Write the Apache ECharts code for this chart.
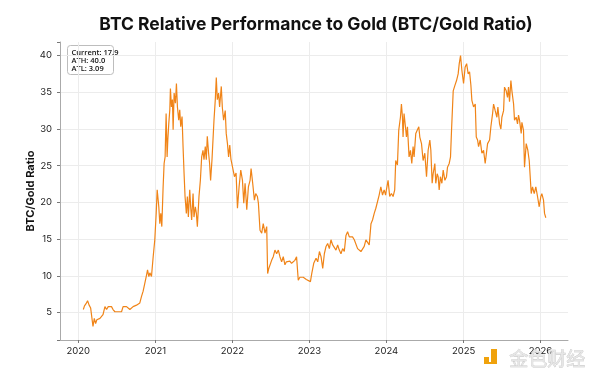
<!DOCTYPE html>
<html>
<head>
<meta charset="utf-8">
<script src="https://cdn.jsdelivr.net/npm/echarts@6/dist/echarts.min.js"></script>
<style>
html,body{margin:0;padding:0;background:#fff;}
#chart{width:600px;height:382px;}
</style>
</head>
<body>
<div id="chart"></div>
<script>
// Fractional years of each observation
const dates = [
2020.065,2020.08,2020.10,2020.12,2020.14,2020.16,2020.175,2020.19,2020.207,2020.224,
2020.24,2020.26,2020.28,2020.30,2020.32,2020.345,2020.366,2020.388,2020.41,2020.43,
2020.45,2020.474,2020.495,2020.517,2020.54,2020.56,2020.58,2020.603,2020.625,2020.647,
2020.668,2020.69,2020.71,2020.733,2020.754,2020.776,2020.797,2020.819,2020.84,2020.862,
2020.884,2020.897,2020.914,2020.927,2020.948,2020.97,2020.991,
2021.009,2021.022,2021.043,2021.056,2021.069,2021.082,2021.099,2021.112,2021.125,2021.138,
2021.151,2021.16,2021.173,2021.186,2021.194,2021.207,2021.22,2021.229,2021.242,2021.259,
2021.272,2021.285,2021.302,2021.315,2021.328,2021.345,2021.358,2021.371,2021.384,2021.401,
2021.414,2021.427,2021.445,2021.457,2021.47,2021.488,2021.50,2021.518,2021.531,2021.544,
2021.565,2021.583,2021.60,2021.617,2021.63,2021.647,2021.66,2021.673,2021.69,2021.703,
2021.716,2021.734,2021.747,2021.76,2021.777,2021.79,2021.803,2021.82,2021.833,2021.855,
2021.868,2021.885,2021.906,2021.919,2021.935,2021.95,2021.965,2021.98,
2022.0,2022.026,2022.047,2022.065,2022.086,2022.108,2022.13,2022.147,2022.164,2022.186,
2022.207,2022.229,2022.242,2022.263,2022.285,2022.302,2022.324,2022.337,2022.358,2022.38,
2022.40,2022.423,2022.445,2022.457,2022.472,2022.488,2022.509,2022.53,2022.552,2022.574,
2022.596,2022.617,2022.639,2022.66,2022.682,2022.70,2022.725,2022.746,2022.768,2022.79,
2022.811,2022.833,2022.855,2022.876,2022.898,2022.92,2022.941,2022.96,2022.984,
2023.013,2023.03,2023.056,2023.086,2023.108,2023.13,2023.151,2023.173,2023.194,2023.216,
2023.237,2023.259,2023.28,2023.302,2023.324,2023.345,2023.367,2023.388,2023.41,2023.432,
2023.453,2023.475,2023.496,2023.518,2023.54,2023.56,2023.583,2023.604,2023.626,2023.647,
2023.669,2023.69,2023.712,2023.734,2023.755,2023.777,2023.80,2023.82,2023.842,2023.863,
2023.885,2023.906,2023.928,2023.95,2023.971,2023.99,
2024.0,2024.022,2024.043,2024.065,2024.087,2024.108,2024.121,2024.143,2024.16,2024.182,
2024.195,2024.208,2024.216,2024.229,2024.247,2024.26,2024.273,2024.294,2024.312,2024.329,
2024.346,2024.359,2024.381,2024.398,2024.42,2024.433,2024.455,2024.476,2024.498,2024.52,
2024.541,2024.563,2024.576,2024.593,2024.606,2024.628,2024.64,2024.658,2024.671,2024.684,
2024.70,2024.719,2024.736,2024.758,2024.779,2024.792,2024.814,2024.831,2024.844,2024.866,
2024.887,2024.909,2024.93,2024.944,2024.961,2024.978,
2025.0,2025.02,2025.04,2025.06,2025.078,2025.095,2025.108,2025.13,2025.152,2025.165,
2025.182,2025.195,2025.216,2025.238,2025.26,2025.281,2025.294,2025.312,2025.338,2025.355,
2025.377,2025.39,2025.411,2025.433,2025.446,2025.468,2025.485,2025.498,2025.52,2025.532,
2025.554,2025.571,2025.584,2025.597,2025.615,2025.628,2025.65,2025.662,2025.684,2025.701,
2025.714,2025.727,2025.749,2025.758,2025.779,2025.792,2025.814,2025.835,2025.853,2025.866,
2025.879,2025.896,2025.918,2025.939,2025.961,2025.983,
2026.004,2026.017,2026.039,2026.052,2026.069
];
// BTC / Gold ratio values
const ratio = [
5.4,5.9,6.2,6.6,6.0,5.6,5.8,3.09,4.2,3.5,
4.0,3.8,4.2,4.0,4.7,5.8,5.4,5.8,5.6,5.8,
5.4,5.1,5.3,5.1,5.2,5.1,5.8,6.0,5.8,6.0,
5.4,5.6,5.8,5.6,6.0,6.0,6.3,7.2,7.9,9.0,
10.1,10.8,9.9,10.4,9.9,12.6,14.9,
18.5,21.7,19.4,17.1,18.5,16.7,22.1,25.3,26.2,32.1,
26.2,28.5,30.8,32.6,35.5,33.0,34.0,29.9,34.9,33.5,
36.2,33.0,31.2,32.6,30.3,31.7,27.6,24.0,20.8,18.5,
20.8,18.0,21.7,19.4,17.6,21.2,18.0,19.4,18.5,16.7,
20.8,23.0,26.2,27.1,25.8,27.6,25.8,29.0,26.7,25.3,
23.0,25.8,28.5,31.2,34.0,37.0,34.0,34.9,33.0,35.8,
33.0,31.2,32.5,29.4,28.0,26.2,27.8,25.9,
25.8,23.5,24.0,19.2,22.1,24.4,23.0,19.9,22.6,19.0,
22.1,23.0,24.6,22.6,20.3,21.2,20.8,19.9,16.2,15.8,
17.1,15.8,16.7,10.3,11.0,11.2,12.1,12.6,13.5,13.0,
13.5,12.6,11.9,12.6,11.5,11.9,11.7,12.0,11.7,11.9,
12.1,12.6,9.4,9.8,9.6,9.8,9.9,9.5,9.4,
9.2,10.3,11.7,12.4,11.9,13.3,12.6,11.0,13.0,14.0,
14.4,13.7,14.9,14.2,14.4,13.5,14.2,13.5,13.0,13.7,
13.3,15.5,16.0,15.3,15.1,15.3,14.9,15.1,13.7,13.5,
13.3,13.5,14.0,14.9,15.1,14.2,17.1,17.6,18.5,19.2,
19.0,21.0,22.1,21.0,21.7,21.0,
21.7,23.0,20.8,21.2,20.8,21.7,25.7,25.1,29.8,31.6,
33.4,31.6,28.9,32.1,30.3,28.9,30.3,26.2,27.1,25.3,
27.6,26.2,29.4,29.8,30.3,28.9,28.0,25.7,26.7,23.5,
27.1,28.5,27.1,22.6,23.9,25.3,22.6,23.9,23.5,21.7,
23.5,22.6,24.4,23.0,23.5,24.8,25.3,26.2,29.8,35.2,
35.9,36.6,37.5,38.9,40.0,38.0,
36.2,38.4,38.9,37.5,37.8,36.0,33.9,33.0,33.4,28.9,
28.5,27.6,28.5,26.7,27.1,25.3,25.1,28.0,28.5,30.3,
32.1,33.4,32.5,31.6,33.0,30.7,30.0,31.6,32.5,35.7,
35.2,34.3,35.7,33.7,36.6,35.2,33.4,31.2,31.6,30.7,
31.9,31.2,29.4,30.9,29.8,24.8,28.0,27.1,25.7,23.5,
21.2,22.1,21.2,22.1,20.8,19.4,
20.8,21.2,20.3,18.5,17.9
];
const yTicks = [5, 10, 15, 20, 25, 30, 35, 40];
const xTickYears = [2020, 2021, 2022, 2023, 2024, 2025, 2026];
const titleText = 'BTC Relative Performance to Gold (BTC/Gold Ratio)';
const yName = 'BTC/Gold Ratio';

function toTime(y) {
  const yr = Math.floor(y);
  const a = new Date(yr, 0, 1).getTime();
  const b = new Date(yr + 1, 0, 1).getTime();
  return a + (y - yr) * (b - a);
}
const seriesData = dates.map((d, i) => [toTime(d), ratio[i]]);
const current = ratio[ratio.length - 1];
const ath = Math.max.apply(null, ratio);
const atl = Math.min.apply(null, ratio);

const FONT = 'Inter';
const chart = echarts.init(document.getElementById('chart'), null, {renderer: 'canvas'});
const YEAR = 365 * 24 * 3600 * 1000;
chart.setOption({
  animation: false,
  backgroundColor: '#ffffff',
  title: {
    text: titleText,
    left: 311,
    textAlign: 'center',
    top: 11,
    textStyle: {fontFamily: FONT, fontSize: 17.5, fontWeight: 'bold', color: '#111'}
  },
  grid: {left: 60, right: 32, top: 42, bottom: 42, containLabel: false},
  xAxis: {
    type: 'time',
    min: toTime(2019.762),
    max: toTime(2026.357),
    minInterval: YEAR,
    maxInterval: YEAR + 24 * 3600 * 1000,
    axisLine: {show: true, lineStyle: {color: '#aaaaaa', width: 1}},
    axisTick: {show: true, length: 3, lineStyle: {color: '#777', width: 1}},
    axisLabel: {
      margin: 6, color: '#222', fontFamily: FONT, fontSize: 9.5,
      formatter: function (v) {
        const d = new Date(v);
        const y = d.getFullYear();
        if (d.getMonth() === 0 && d.getDate() === 1 && d.getHours() === 0 && xTickYears.indexOf(y) >= 0) return String(y);
        return '';
      }
    },
    splitLine: {show: true, showMinLine: false, showMaxLine: false, lineStyle: {color: '#ececec', width: 1}}
  },
  yAxis: {
    type: 'value',
    min: 1.25,
    max: 41.85,
    splitNumber: 8,
    minInterval: 5,
    maxInterval: 5,
    name: yName,
    nameLocation: 'middle',
    nameGap: 24,
    nameMoveOverlap: false,
    nameTextStyle: {fontFamily: FONT, fontSize: 11, fontWeight: 'bold', color: '#111'},
    axisLine: {show: true, lineStyle: {color: '#aaaaaa', width: 1}},
    axisTick: {show: true, length: 3, lineStyle: {color: '#777', width: 1}},
    axisLabel: {
      margin: 8, color: '#222', fontFamily: FONT, fontSize: 9.5,
      formatter: function (v) { return yTicks.indexOf(Math.round(v * 100) / 100) >= 0 ? String(v) : ''; }
    },
    splitLine: {show: true, showMinLine: false, showMaxLine: false, lineStyle: {color: '#ececec', width: 1}}
  },
  series: [{
    type: 'line',
    data: seriesData,
    showSymbol: false,
    symbol: 'none',
    lineStyle: {color: '#F08418', width: 1.2},
    z: 3
  }],
  graphic: [
    {
      type: 'group', left: 67, top: 45, z: 10,
      children: [
        {type: 'rect', shape: {x: 0, y: 0, width: 46, height: 29, r: 3},
         style: {fill: '#ffffff', stroke: '#bdbdbd', lineWidth: 1}},
        {type: 'text', x: 4, y: 3,
         style: {
           text: 'Current: ' + current.toFixed(1) + '\nATH: ' + ath.toFixed(1) + '\nATL: ' + atl.toFixed(2),
           fontFamily: 'Open Sans', fontSize: 7.5, fontWeight: 600, fill: '#111', lineHeight: 8
         }}
      ]
    },
    {
      type: 'group', left: 484, top: 349, z: 20,
      children: [
        {type: 'rect', shape: {x: 0, y: 8, width: 5, height: 5}, style: {fill: '#F0A20C'}},
        {type: 'rect', shape: {x: 7, y: 0, width: 6, height: 15}, style: {fill: '#F0A20C'}},
        {type: 'rect', shape: {x: 0, y: 13, width: 13, height: 2}, style: {fill: '#F0A20C'}}
      ]
    },
    {
      type: 'text', left: 509, top: 349, z: 20,
      style: {text: '金色财经', fontFamily: 'Noto Sans CJK SC', fontSize: 19, fill: '#e6e6e6', stroke: '#c4c4c4', lineWidth: 0.6}
    }
  ]
});
</script>
</body>
</html>
